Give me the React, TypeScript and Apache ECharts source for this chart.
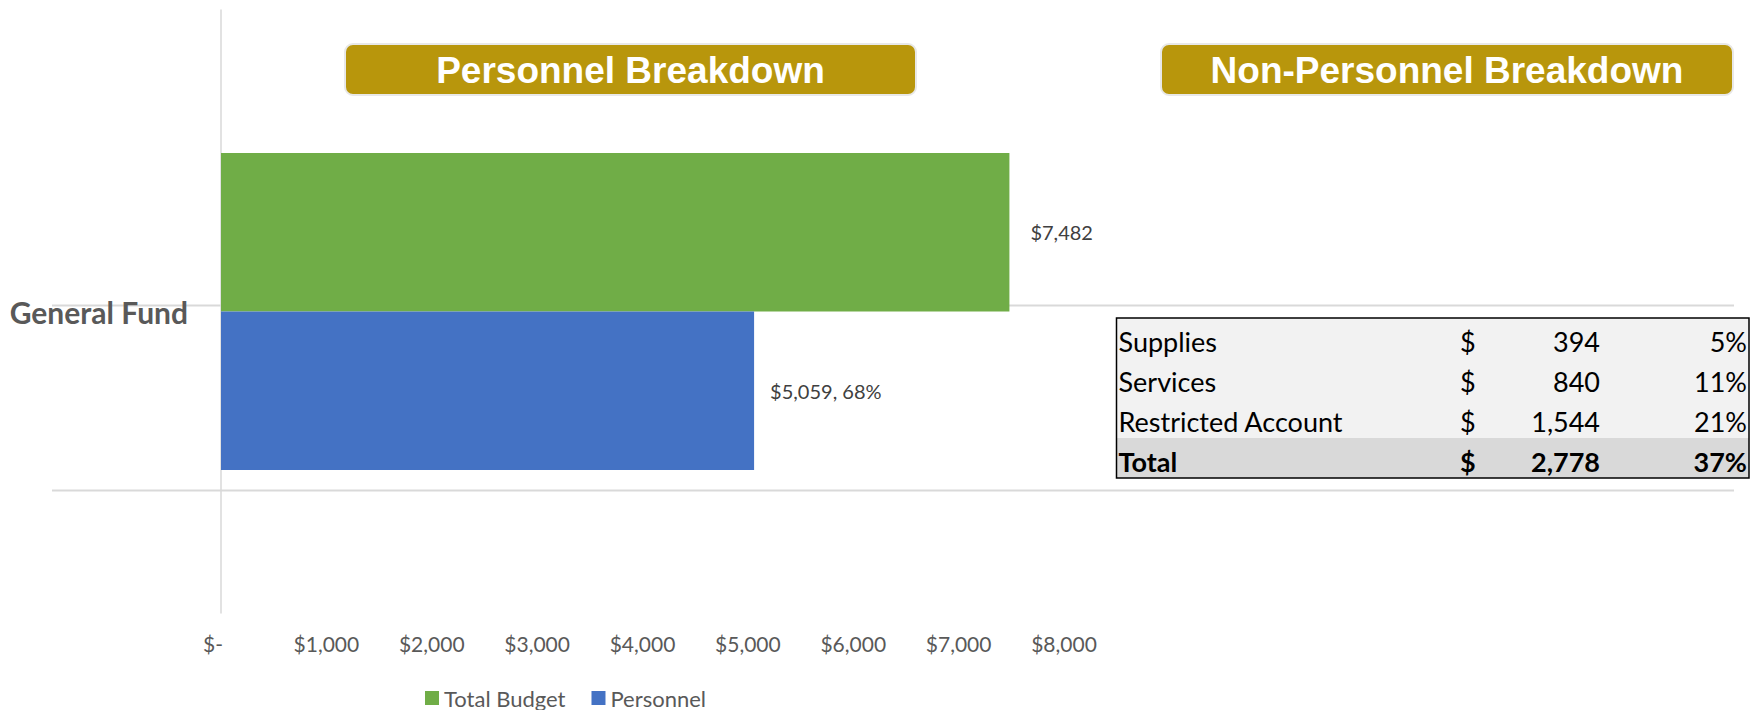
import React, { useEffect, useRef } from "react";
import * as echarts from "echarts";

const categories = ["General Fund"];
const seriesNames = ["Total Budget", "Personnel"];
const totalBudget = [7482];
const personnel = [5059];
const personnelPct = [68];
const xTicks = { min: 0, max: 8000, interval: 1000 };

const titles = ["Personnel Breakdown", "Non-Personnel Breakdown"];
const nonPersonnelItems = ["Supplies", "Services", "Restricted Account"];
const nonPersonnelValues = [394, 840, 1544];
const nonPersonnelPct = [5, 11, 21];
const totalLabel = "Total";
const totalValue = 2778;
const totalPct = 37;

const GREEN = "#70AD47";
const BLUE = "#4472C4";
const GOLD = "#B8960C";
const FONT = "Lato, 'Open Sans', sans-serif";
const TITLE_FONT = "'Liberation Sans', Arial, sans-serif";

const fmt = (v: number) => "$" + v.toLocaleString("en-US");

export default function App() {
  const ref = useRef<HTMLDivElement>(null);
  useEffect(() => {
    if (!ref.current) return;
    const chart = echarts.init(ref.current, undefined, { renderer: "svg" });

    const tableX0 = 1116.5;
    const tableX1 = 1749;
    const tableTop = 318;
    const rowH = 40;
    const rows = [
      ...nonPersonnelItems.map((n, i) => ({
        name: n,
        val: nonPersonnelValues[i].toLocaleString("en-US"),
        pct: nonPersonnelPct[i] + "%",
        bold: false,
      })),
      { name: totalLabel, val: totalValue.toLocaleString("en-US"), pct: totalPct + "%", bold: true },
    ];
    const tableEls: any[] = [];
    tableEls.push({
      type: "rect",
      z: 100,
      shape: { x: tableX0, y: tableTop, width: tableX1 - tableX0, height: rowH * 3 },
      style: { fill: "#F2F2F2" },
    });
    tableEls.push({
      type: "rect",
      z: 100,
      shape: { x: tableX0, y: tableTop + rowH * 3, width: tableX1 - tableX0, height: rowH },
      style: { fill: "#D9D9D9" },
    });
    rows.forEach((r, i) => {
      const cy = tableTop + rowH * i + rowH / 2 + 3;
      const base = {
        fill: "#000",
        fontSize: 27,
        fontFamily: FONT,
        fontWeight: r.bold ? "bold" : "normal",
        textVerticalAlign: "middle",
      };
      tableEls.push({ type: "text", z: 101, style: { ...base, text: r.name, x: tableX0 + 2, y: cy, textAlign: "left" } });
      tableEls.push({ type: "text", z: 101, style: { ...base, text: "$", x: 1460, y: cy, textAlign: "left" } });
      tableEls.push({ type: "text", z: 101, style: { ...base, text: r.val, x: 1600, y: cy, textAlign: "right" } });
      tableEls.push({ type: "text", z: 101, style: { ...base, text: r.pct, x: 1747, y: cy, textAlign: "right" } });
    });
    tableEls.push({
      type: "rect",
      z: 102,
      shape: { x: tableX0, y: tableTop, width: tableX1 - tableX0, height: rowH * 4 },
      style: { fill: "none", stroke: "#000", lineWidth: 1.5 },
    });

    const titleBoxes = [
      { x: 345, w: 571 },
      { x: 1161, w: 572 },
    ];
    const titleEls: any[] = [];
    titleBoxes.forEach((b, i) => {
      titleEls.push({
        type: "rect",
        z: 100,
        shape: { x: b.x, y: 44, width: b.w, height: 51, r: 8 },
        style: { fill: GOLD, stroke: "#E8E8E8", lineWidth: 2 },
      });
      titleEls.push({
        type: "text",
        z: 101,
        style: {
          text: titles[i],
          x: b.x + b.w / 2,
          y: 70,
          textAlign: "center",
          textVerticalAlign: "middle",
          fill: "#FFFFFF",
          fontSize: 37,
          fontWeight: "bold",
          fontFamily: TITLE_FONT,
        },
      });
    });

    const lineEls = [305.5, 490.5].map((y) => ({
      type: "line",
      z: 0,
      shape: { x1: 52, y1: y, x2: 1734, y2: y },
      style: { stroke: "#D9D9D9", lineWidth: 2 },
    }));

    chart.setOption({
      animation: false,
      textStyle: { fontFamily: FONT },
      grid: { left: 221, right: 1762 - 1064, top: 10, bottom: 710 - 613, containLabel: false },
      legend: {
        data: seriesNames,
        left: 425,
        top: 687,
        padding: 0,
        itemWidth: 14,
        itemHeight: 14,
        itemGap: 26,
        icon: "rect",
        textStyle: { fontSize: 22, color: "#595959", fontFamily: FONT },
      },
      xAxis: {
        type: "value",
        min: xTicks.min,
        max: xTicks.max,
        interval: xTicks.interval,
        splitLine: { show: false },
        axisLine: { show: false },
        axisTick: { show: false },
        axisLabel: {
          margin: 20,
          fontSize: 21,
          color: "#595959",
          fontFamily: FONT,
          formatter: (v: number) => (v === 0 ? "{z|$-}" : fmt(v)),
          rich: {
            z: { fontSize: 21, color: "#595959", fontFamily: FONT, padding: [0, 16, 0, 0] },
          },
        },
      },
      yAxis: {
        type: "category",
        data: categories,
        axisLine: { show: true, lineStyle: { color: "#D9D9D9", width: 1.5 } },
        axisTick: { show: false },
        splitLine: { show: false },
        axisLabel: {
          margin: 33,
          fontSize: 30,
          fontWeight: "bold",
          color: "#595959",
          fontFamily: FONT,
        },
      },
      series: [
        {
          name: seriesNames[0],
          type: "bar",
          data: totalBudget,
          barWidth: 158.5,
          barGap: "0%",
          itemStyle: { color: GREEN },
          label: {
            show: true,
            position: "right",
            distance: 21,
            fontSize: 20,
            color: "#404040",
            fontFamily: FONT,
            formatter: (p: any) => fmt(p.value),
          },
        },
        {
          name: seriesNames[1],
          type: "bar",
          data: personnel,
          barWidth: 158.5,
          barGap: "0%",
          itemStyle: { color: BLUE },
          label: {
            show: true,
            position: "right",
            distance: 16,
            fontSize: 20,
            color: "#404040",
            fontFamily: FONT,
            formatter: (p: any) => fmt(p.value) + ", " + personnelPct[p.dataIndex] + "%",
          },
        },
      ],
      graphic: { elements: [...lineEls, ...titleEls, ...tableEls] },
    });
    return () => chart.dispose();
  }, []);
  return (
    <div
      ref={ref}
      style={{ position: "fixed", left: 0, top: 0, width: 1762, height: 710, background: "#fff" }}
    />
  );
}
